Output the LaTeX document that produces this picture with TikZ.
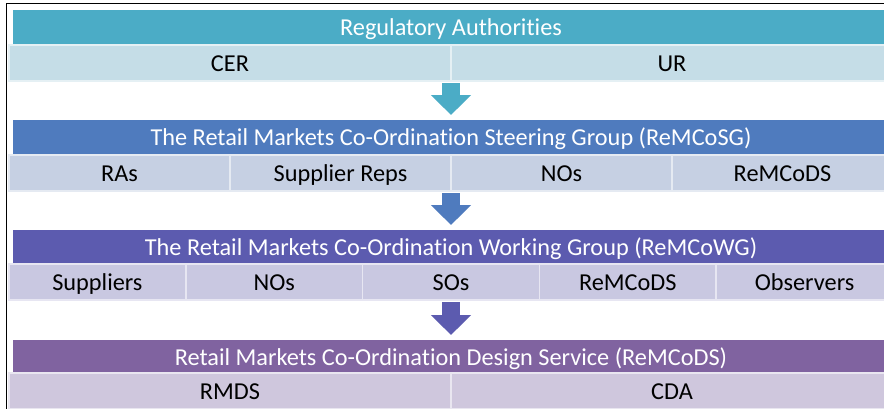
\documentclass[tikz,border=0pt]{standalone}
\usepackage{fontspec}
\setmainfont[Ligatures=NoCommon]{Carlito}
\usetikzlibrary{arrows.meta}

\definecolor{tealhead}{HTML}{4BACC6}
\definecolor{tealcell}{HTML}{C5DDE7}
\definecolor{bluehead}{HTML}{4F7BBE}
\definecolor{bluecell}{HTML}{C6D0E3}
\definecolor{indigohead}{HTML}{5C5BAF}
\definecolor{indigocell}{HTML}{C9C8E1}
\definecolor{violethead}{HTML}{8063A0}
\definecolor{violetcell}{HTML}{CFC7DD}

\begin{document}
\begin{tikzpicture}[x=1pt,y=-1pt,
    head/.style={text=white, minimum width=876pt, minimum height=34pt},
    cell/.style={draw=white!55!#1, line width=1.5pt, fill=#1, minimum height=36pt},
    down/.style={draw=#1, line width=18pt, shorten <=2pt, shorten >=5pt,
      -{Triangle[width=39pt,length=20pt]}}]

      \useasboundingbox (0,0) rectangle (884,408);
      \draw[line width=1.8pt] (6.5,410) -- (6.5,3.5) -- (886,3.5);

      \begin{scope}[every node/.style={inner sep=0pt, outer sep=0pt,
          text height=22pt, text depth=4.6pt, font=\fontsize{24.3}{28}\selectfont}]
        % header bars
        \node[head, fill=tealhead]   (1) at (451,27)  {Regulatory Authorities};
        \node[head, fill=bluehead]   (2) at (451,137) {The Retail Markets Co-Ordination Steering Group (ReMCoSG)};
        \node[head, fill=indigohead] (3) at (451,247) {The Retail Markets Co-Ordination Working Group (ReMCoWG)};
        \node[head, fill=violethead] (4) at (451,357) {Retail Markets Co-Ordination Design Service (ReMCoDS)};

        % member rows
        \node[cell=tealcell, minimum width=442pt] (11) at (230,63) {CER};
        \node[cell=tealcell, minimum width=442pt] (12) at (672,63) {UR};

        \node[cell=bluecell, minimum width=221pt] (21) at (119.5,173) {RAs};
        \node[cell=bluecell, minimum width=221pt] (22) at (340.5,173) {Supplier Reps};
        \node[cell=bluecell, minimum width=221pt] (23) at (561.5,173) {NOs};
        \node[cell=bluecell, minimum width=221pt] (24) at (782.5,173) {ReMCoDS};

        \node[cell=indigocell, minimum width=176.8pt] (31) at (97.4,282)  {Suppliers};
        \node[cell=indigocell, minimum width=176.8pt] (32) at (274.2,282) {NOs};
        \node[cell=indigocell, minimum width=176.8pt] (33) at (451,282)   {SOs};
        \node[cell=indigocell, minimum width=176.8pt] (34) at (627.8,282) {ReMCoDS};
        \node[cell=indigocell, minimum width=176.8pt] (35) at (804.6,282) {Observers};

        \node[cell=violetcell, minimum width=442pt] (41) at (230,391) {RMDS};
        \node[cell=violetcell, minimum width=442pt] (42) at (672,391) {CDA};
      \end{scope}

      % block arrows between the levels
      \draw[down=tealhead]   (11.south east) -- (2.north);
      \draw[down=bluehead]   (22.south east) -- (3.north);
      \draw[down=indigohead] (33.south)      -- (4.north);

    \end{tikzpicture}
\end{document}
